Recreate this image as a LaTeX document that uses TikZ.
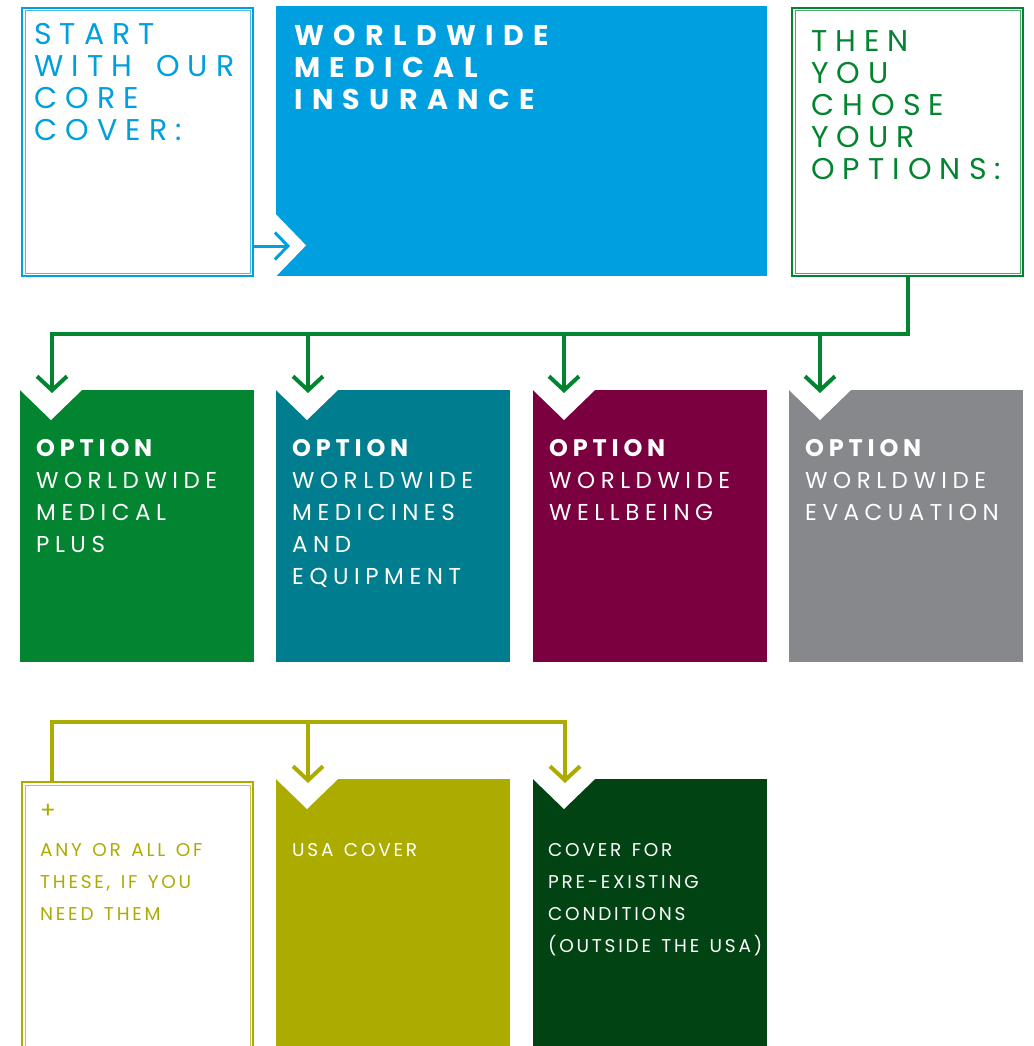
\documentclass[tikz,border=0pt]{standalone}
\usepackage{fontspec}
\setmainfont{Poppins}
\newfontfamily\headface[LetterSpace=27,WordSpace=1.5]{Poppins}
\newfontfamily\smallface[LetterSpace=15,WordSpace=1.35]{Poppins}
\usepackage{tikz}
\usetikzlibrary{arrows.meta,positioning,calc}

\definecolor{coreblue}{HTML}{009FDF}
\definecolor{optgreen}{HTML}{038430}
\definecolor{optteal}{HTML}{007D8F}
\definecolor{optwine}{HTML}{7A003F}
\definecolor{optgrey}{HTML}{87888C}
\definecolor{olive}{HTML}{ABAB00}
\definecolor{deepgreen}{HTML}{014313}

\newcommand{\optbold}{\fontsize{24}{32}\selectfont\bfseries\addfontfeature{LetterSpace=20}}
\newcommand{\plusmark}{{\fontsize{23}{32}\selectfont\addfontfeature{LetterSpace=0}+}}

\begin{document}
\begin{tikzpicture}[x=1pt, y=-1pt,
  node distance=0pt,
  panel/.style={anchor=north west, inner sep=0pt, minimum width=234pt, minimum height=272pt},
  framed/.style={anchor=north west, inner sep=0pt, draw=#1, line width=2pt,
                 minimum width=231pt, minimum height=268pt},
  inner line/.style={draw=#1, line width=1pt},
  headtxt/.style={inner sep=0pt, align=left,
                  font=\headface\fontsize{30}{32}\selectfont},
  titletxt/.style={inner sep=0pt, align=left, text=white,
                  font=\fontsize{28.5}{32}\selectfont\bfseries\addfontfeature{LetterSpace=33}},
  opttxt/.style={inner sep=0pt, align=left, text=white,
                  font=\fontsize{23}{32}\selectfont\addfontfeature{LetterSpace=24}},
  smalltxt/.style={inner sep=0pt, align=left,
                  font=\smallface\fontsize{18.5}{32}\selectfont},
  notch/.style={fill=white},
  blink/.style={draw=coreblue, line width=3pt, -{Straight Barb[length=13pt, width=27pt]}},
  glink/.style={draw=optgreen, line width=4pt, -{Straight Barb[length=14pt, width=30pt]}},
  olink/.style={draw=olive, line width=4pt, -{Straight Barb[length=14pt, width=30pt]}}
]
  \clip (0,0) rectangle (1033,1046);

  % Top: core cover
  \node[framed=coreblue] (corebox) at (21,7) {};
  \draw[inner line=coreblue!70] ($(corebox.north west)+(4,4)$) rectangle ($(corebox.south east)+(-4,-4)$);
  \node[anchor=north west, inner sep=0pt, fill=coreblue, minimum width=491pt, minimum height=270pt] (wmibox) at (276,6) {};
  \fill[notch] (wmibox.south west) -- ++(30,-31) -- ++(-30,-31) -- cycle;
  \node[framed=optgreen] (choosebox) at (791,7) {};
  \draw[inner line=optgreen!70] ($(choosebox.north west)+(4,4)$) rectangle ($(choosebox.south east)+(-4,-4)$);

  \node[headtxt, text=coreblue, below right=16pt and 13pt of corebox.north west, anchor=north west] (coretxt) {START\\WITH OUR\\CORE\\COVER:};
  \node[titletxt, below right=19pt and 18pt of wmibox.north west, anchor=north west] (wmitxt) {WORLDWIDE\\MEDICAL\\INSURANCE};
  \node[headtxt, text=optgreen, below right=23pt and 20pt of choosebox.north west, anchor=north west] (choosetxt) {THEN\\YOU\\CHOSE\\YOUR\\OPTIONS:};

  % Middle: options
  \node[panel, fill=optgreen] (optA) at (20,390) {};
  \node[panel, fill=optteal] (optB) at (276,390) {};
  \node[panel, fill=optwine] (optC) at (533,390) {};
  \node[panel, fill=optgrey] (optD) at (789,390) {};
  \foreach \o in {optA,optB,optC,optD}
    \fill[notch] (\o.north west) -- ++(31,30) -- ++(31,-30) -- cycle;

  \node[opttxt, below right=49pt and 16pt of optA.north west, anchor=north west] (optAtxt) {{\optbold OPTION}\\WORLDWIDE\\MEDICAL\\PLUS};
  \node[opttxt, below right=49pt and 16pt of optB.north west, anchor=north west] (optBtxt) {{\optbold OPTION}\\WORLDWIDE\\MEDICINES\\AND\\EQUIPMENT};
  \node[opttxt, below right=49pt and 16pt of optC.north west, anchor=north west] (optCtxt) {{\optbold OPTION}\\WORLDWIDE\\WELLBEING};
  \node[opttxt, below right=49pt and 16pt of optD.north west, anchor=north west] (optDtxt) {{\optbold OPTION}\\WORLDWIDE\\EVACUATION};

  % Bottom: extras
  \node[framed=olive, minimum height=300pt] (anybox) at (21,781) {};
  \draw[inner line=olive!70] ($(anybox.north west)+(4,4)$) rectangle ($(anybox.south east)+(-4,-4)$);
  \node[panel, fill=olive, minimum height=300pt] (usabox) at (276,779) {};
  \node[panel, fill=deepgreen, minimum height=300pt] (prebox) at (533,779) {};
  \foreach \o in {usabox,prebox}
    \fill[notch] (\o.north west) -- ++(31,30) -- ++(31,-30) -- cycle;

  \node[smalltxt, text=olive, below right=23pt and 19pt of anybox.north west, anchor=north west] (anytxt) {\plusmark\\[6pt]ANY OR ALL OF\\THESE, IF YOU\\NEED THEM};
  \node[smalltxt, text=white, below right=64pt and 16pt of usabox.north west, anchor=north west] (usatxt) {USA COVER};
  \node[smalltxt, text=white, below right=64pt and 15pt of prebox.north west, anchor=north west] (pretxt) {COVER FOR\\PRE-EXISTING\\CONDITIONS\\(OUTSIDE THE USA)};

  % Arrows
  \coordinate (coretip) at (290,246);
  \draw[blink] (corebox.east |- coretip) -- (coretip);

  \coordinate (tipA) at ($(optA.north west)+(32,3)$);
  \coordinate (tipB) at ($(optB.north west)+(32,3)$);
  \coordinate (tipC) at ($(optC.north west)+(31,3)$);
  \coordinate (tipD) at ($(optD.north west)+(31,3)$);
  \foreach \t in {tipA,tipB,tipC,tipD}
    \draw[glink] (choosebox.south) -- ++(0,57) -| (\t);

  \coordinate (ojoin) at ($(anybox.north west)+(31,-59)$);
  \coordinate (tipU) at ($(usabox.north west)+(32,4)$);
  \coordinate (tipP) at ($(prebox.north west)+(32,4)$);
  \foreach \t in {tipU,tipP}
    \draw[olink] (anybox.north -| ojoin) -- (ojoin) -| (\t);
\end{tikzpicture}
\end{document}
